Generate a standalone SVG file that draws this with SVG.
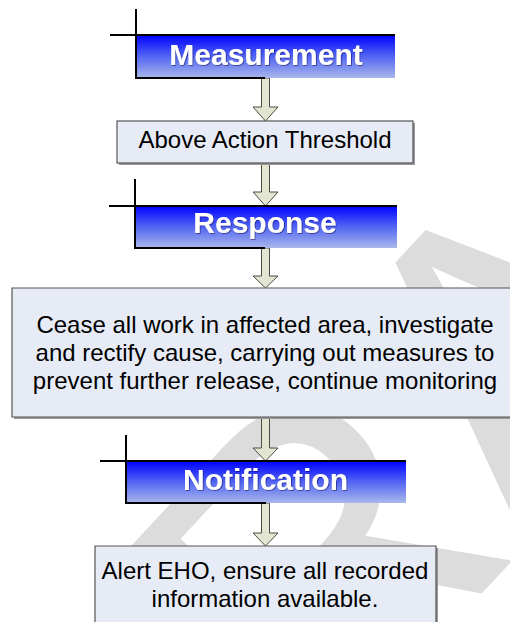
<svg xmlns="http://www.w3.org/2000/svg" width="510" height="622" viewBox="0 0 510 622">
<defs>
<linearGradient id="hdr" x1="0" y1="0" x2="0" y2="1">
<stop offset="0" stop-color="#0000ff"/>
<stop offset="0.45" stop-color="#4a5cf4"/>
<stop offset="1" stop-color="#a9b8ea"/>
</linearGradient>
<filter id="ts" x="-10%" y="-20%" width="120%" height="140%">
<feDropShadow dx="0.8" dy="0.8" stdDeviation="0.6" flood-color="#000050" flood-opacity="0.6"/>
</filter>
</defs>
<style>
.wm{font-family:"Liberation Sans",Arial,sans-serif;font-size:420px;fill:#dcdcdc}
.hbar{fill:url(#hdr)}
.hl{stroke:#000;stroke-width:2;fill:none}
.ht{font-family:"Liberation Sans",Arial,sans-serif;font-weight:bold;font-size:30px;fill:#fff;text-anchor:middle}
.box{fill:#e6ebf6;stroke:#555;stroke-width:1.2}
.bf{fill:#e6ebf6}
.bs{fill:none;stroke:#555;stroke-width:1.2}
.sh{fill:#9a9a9a}
.bt{font-family:"Liberation Sans",Arial,sans-serif;font-size:24px;fill:#000;text-anchor:middle}
.arr{fill:#e1e5d2;stroke:#4d4d40;stroke-width:1}
</style>
<rect width="510" height="622" fill="#fff"/>
<text class="wm" transform="translate(112,990) rotate(-47)">DRAFT</text>

<g id="connectors">
<polygon class="arr" points="261.5,78 269.5,78 269.5,107 278,107 265.5,121 253,107 261.5,107"/>
<polygon class="arr" points="261.5,163 269.5,163 269.5,192 278,192 265.5,206 253,192 261.5,192"/>
<polygon class="arr" points="261.5,248 269.5,248 269.5,276 278,276 265.5,288 253,276 261.5,276"/>
<polygon class="arr" points="261.5,417 269.5,417 269.5,448 278,448 265.5,461 253,448 261.5,448"/>
<polygon class="arr" points="261.5,503 269.5,503 269.5,533 278,533 265.5,546 253,533 261.5,533"/>
</g>

<g id="measurement">
<rect class="hbar" x="136" y="35" width="259" height="43"/>
<path class="hl" d="M136,9 V78 H265 M110,35 H395"/>
<text class="ht" x="266" y="65" filter="url(#ts)">Measurement</text>
</g>

<g id="above-threshold">
<rect class="sh" x="119" y="123" width="296" height="42"/>
<rect class="box" x="117" y="121" width="296" height="42"/>
<text class="bt" x="265" y="148">Above Action Threshold</text>
</g>

<g id="response">
<rect class="hbar" x="135" y="206" width="262" height="42"/>
<path class="hl" d="M135,179 V248 H265 M109,206 H397"/>
<text class="ht" x="265" y="233" filter="url(#ts)">Response</text>
</g>

<g id="cease-work">
<rect class="sh" x="14" y="290" width="496" height="129"/>
<rect class="bf" x="12" y="288" width="498" height="129"/>
<path class="bs" d="M510,288 H12 V417 H510"/>
<text class="bt" x="265" y="333">Cease all work in affected area, investigate</text>
<text class="bt" x="265" y="361">and rectify cause, carrying out measures to</text>
<text class="bt" x="265" y="389">prevent further release, continue monitoring</text>
</g>

<g id="notification">
<rect class="hbar" x="126" y="461" width="280" height="42"/>
<path class="hl" d="M126,435 V503 H266 M100,461 H406"/>
<text class="ht" x="265.5" y="490" filter="url(#ts)">Notification</text>
</g>

<g id="alert-eho">
<rect class="sh" x="97" y="548" width="341" height="74"/>
<rect class="bf" x="95" y="546" width="341" height="76"/>
<path class="bs" d="M95,622 V546 H436 V622"/>
<text class="bt" x="265" y="579">Alert EHO, ensure all recorded</text>
<text class="bt" x="265" y="607">information available.</text>
</g>
</svg>
